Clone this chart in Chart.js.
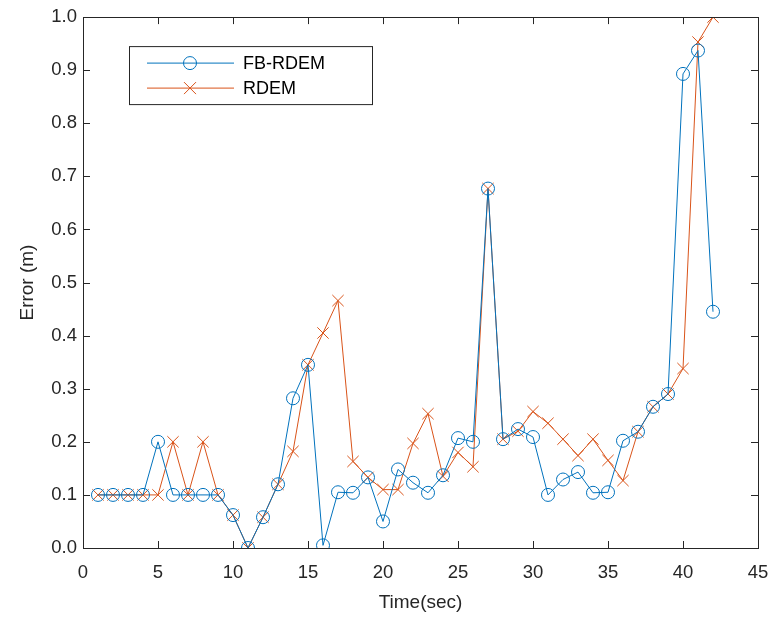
<!DOCTYPE html>
<html>
<head>
<meta charset="utf-8">
<script src="https://cdn.jsdelivr.net/npm/chart.js@4/dist/chart.umd.min.js"></script>
<style>
  html, body { margin: 0; padding: 0; background: #fff; }
  #wrap { width: 772px; height: 617px; }
</style>
</head>
<body>
<div id="wrap"><canvas id="chart"></canvas></div>
<script>
const time = [1,2,3,4,5,6,7,8,9,10,11,12,13,14,15,16,17,18,19,20,21,22,23,24,25,26,27,28,29,30,31,32,33,34,35,36,37,38,39,40,41,42];
const fbRdem = [0.1,0.1,0.1,0.1,0.2,0.1,0.1,0.1,0.1,0.062,0.0,0.058,0.12,0.282,0.345,0.005,0.105,0.104,0.133,0.05,0.148,0.123,0.104,0.137,0.207,0.2,0.677,0.205,0.224,0.209,0.1,0.129,0.143,0.104,0.105,0.202,0.219,0.266,0.29,0.893,0.937,0.445];
const rdem = [0.1,0.1,0.1,0.1,0.1,0.2,0.1,0.2,0.1,0.062,0.0,0.058,0.12,0.182,0.345,0.405,0.466,0.163,0.133,0.11,0.11,0.197,0.253,0.135,0.18,0.153,0.677,0.205,0.22,0.257,0.235,0.205,0.174,0.205,0.165,0.127,0.219,0.266,0.29,0.338,0.953,1.0];
const xTicks = [0,5,10,15,20,25,30,35,40,45];
const yTicks = [0,0.1,0.2,0.3,0.4,0.5,0.6,0.7,0.8,0.9,1.0];

const blue = '#0072BD';
const orange = '#D95319';
const axisColor = '#262626';
const fontFamily = '"Liberation Sans", Arial, Helvetica, sans-serif';

function toPoints(xs, ys) {
  return xs.map((x, i) => ({ x: x, y: ys[i] }));
}

// box + inward ticks on all four sides, like MATLAB
const boxTicks = {
  id: 'boxTicks',
  afterDraw(chart) {
    const ctx = chart.ctx;
    const a = chart.chartArea;
    const xs = chart.scales.x, ys = chart.scales.y;
    const len = 7;
    ctx.save();
    ctx.strokeStyle = axisColor;
    ctx.lineWidth = 1;
    ctx.beginPath();
    xTicks.forEach(v => {
      const px = Math.round(xs.getPixelForValue(v)) + 0.5;
      ctx.moveTo(px, a.bottom); ctx.lineTo(px, a.bottom - len);
      ctx.moveTo(px, a.top); ctx.lineTo(px, a.top + len);
    });
    yTicks.forEach(v => {
      const py = Math.round(ys.getPixelForValue(v)) + 0.5;
      ctx.moveTo(a.left, py); ctx.lineTo(a.left + len, py);
      ctx.moveTo(a.right, py); ctx.lineTo(a.right - len, py);
    });
    ctx.stroke();
    ctx.strokeRect(Math.round(a.left) + 0.5, Math.round(a.top) + 0.5,
                   Math.round(a.right - a.left), Math.round(a.bottom - a.top));
    ctx.restore();
  }
};

// legend box in upper left, MATLAB style
const boxLegend = {
  id: 'boxLegend',
  afterDraw(chart) {
    const ctx = chart.ctx;
    const a = chart.chartArea;
    const x0 = a.left + 46, y0 = a.top + 29, w = 243, h = 58;
    ctx.save();
    ctx.fillStyle = '#fff';
    ctx.fillRect(x0, y0, w, h);
    ctx.strokeStyle = axisColor;
    ctx.lineWidth = 1;
    ctx.strokeRect(x0 + 0.5, y0 + 0.5, w, h);
    chart.data.datasets.forEach((ds, i) => {
      const cy = y0 + 17 + i * 25;
      ctx.strokeStyle = ds.borderColor;
      ctx.lineWidth = 1;
      ctx.beginPath();
      ctx.moveTo(x0 + 18, cy); ctx.lineTo(x0 + 105, cy);
      ctx.stroke();
      const mx = x0 + 61;
      ctx.beginPath();
      if (ds.pointStyle === 'circle') {
        ctx.arc(mx, cy, 6.5, 0, Math.PI * 2);
      } else {
        ctx.moveTo(mx - 6, cy - 6); ctx.lineTo(mx + 6, cy + 6);
        ctx.moveTo(mx + 6, cy - 6); ctx.lineTo(mx - 6, cy + 6);
      }
      ctx.stroke();
      ctx.fillStyle = '#000';
      ctx.font = '18px ' + fontFamily;
      ctx.textBaseline = 'middle';
      ctx.fillText(ds.label, x0 + 114, cy + 1);
    });
    ctx.restore();
  }
};

new Chart(document.getElementById('chart'), {
  type: 'line',
  data: {
    datasets: [
      {
        label: 'FB-RDEM',
        data: toPoints(time, fbRdem),
        borderColor: blue,
        backgroundColor: 'rgba(0,0,0,0)',
        borderWidth: 1,
        pointStyle: 'circle',
        pointRadius: 6.5,
        pointBorderWidth: 1,
        pointBorderColor: blue,
        pointBackgroundColor: 'rgba(0,0,0,0)',
        tension: 0
      },
      {
        label: 'RDEM',
        data: toPoints(time, rdem),
        borderColor: orange,
        backgroundColor: 'rgba(0,0,0,0)',
        borderWidth: 1,
        pointStyle: 'crossRot',
        pointRadius: 8,
        pointBorderWidth: 1,
        pointBorderColor: orange,
        pointBackgroundColor: 'rgba(0,0,0,0)',
        tension: 0
      }
    ]
  },
  options: {
    responsive: true,
    maintainAspectRatio: false,
    animation: false,
    layout: { padding: { top: 17, right: 14, left: 0, bottom: 0 } },
    plugins: {
      legend: { display: false },
      tooltip: { enabled: false }
    },
    scales: {
      x: {
        type: 'linear',
        min: 0, max: 45,
        afterBuildTicks: s => { s.ticks = xTicks.map(v => ({ value: v })); },
        afterFit: s => { s.height = 69; },
        // tick marks themselves are drawn by boxTicks; tickLength only spaces the labels
        grid: { display: false, drawTicks: true, tickLength: 14 },
        border: { display: false },
        ticks: { color: '#262626', padding: 0, maxRotation: 0, font: { family: fontFamily, size: 18.5 } },
        title: { display: true, text: 'Time(sec)', color: '#262626', padding: { top: 0, bottom: 3 }, font: { family: fontFamily, size: 19 } }
      },
      y: {
        type: 'linear',
        min: 0, max: 1,
        afterBuildTicks: s => { s.ticks = yTicks.map(v => ({ value: v })); },
        afterFit: s => { s.width = 83; },
        grid: { display: false, drawTicks: false },
        border: { display: false },
        ticks: { color: '#262626', padding: 6, callback: v => v.toFixed(1), font: { family: fontFamily, size: 18.5 } },
        title: { display: true, text: 'Error (m)', color: '#262626', padding: { top: 16, bottom: 0 }, font: { family: fontFamily, size: 19 } }
      }
    }
  },
  plugins: [boxTicks, boxLegend]
});
</script>
</body>
</html>
